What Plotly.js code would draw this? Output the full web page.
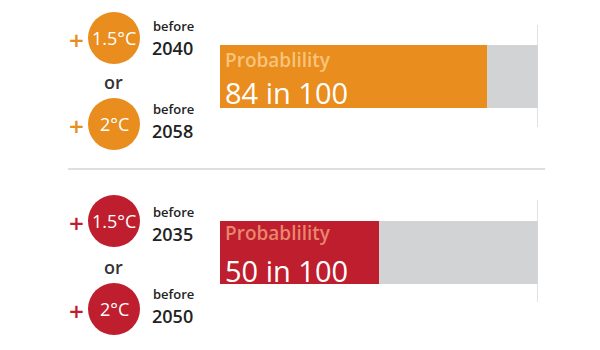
<!DOCTYPE html>
<html>
<head>
<meta charset="utf-8">
<script src="https://cdn.plot.ly/plotly-3.0.1.min.js"></script>
<style>html,body{margin:0;padding:0;background:#fff;}#chart{width:600px;height:350px;}</style>
</head>
<body>
<div id="chart"></div>
<script>
// Data
const probabilities = [84, 50];
const totals = [100, 100];
const probLabels = ["84 in 100", "50 in 100"];
const warmingA = ["1.5°C", "1.5°C"];
const warmingB = ["2°C", "2°C"];
const yearsA = ["2040", "2035"];
const yearsB = ["2058", "2050"];
const mainColors = ["#E88D1E", "#BE1E2D"];
const labelColors = ["#F9C47A", "#E8866E"];
const grayColor = "#D1D3D4";

const W = 600, H = 350;
const py = v => 1 - v / H;
const px = v => v / W;

// per-panel pixel layout
const panels = [
  {lineTop: 25, lineBot: 127, c1: 38, c2: 124, or: 82, b1: 26, y1: 47, b2: 109, y2: 130, prob: 60, val: 92},
  {lineTop: 200, lineBot: 302, c1: 221, c2: 309, or: 267, b1: 212, y1: 233, b2: 294, y2: 315, prob: 233, val: 270}
];

const traces = [];
const shapes = [];
const annotations = [];
const font = "Open Sans, Noto Sans, sans-serif";

probabilities.forEach((p, i) => {
  const ya = i === 0 ? 'y' : 'y2';
  traces.push({type: 'bar', orientation: 'h', x: [p], y: [0], width: 1, xaxis: 'x', yaxis: ya,
    marker: {color: mainColors[i], line: {width: 0}}, hoverinfo: 'none'});
  traces.push({type: 'bar', orientation: 'h', x: [totals[i] - p], y: [0], width: 1, xaxis: 'x', yaxis: ya,
    marker: {color: grayColor, line: {width: 0}}, hoverinfo: 'none'});
  const P = panels[i];
  shapes.push({type: 'line', xref: 'x', yref: 'paper', x0: totals[i], x1: totals[i], y0: py(P.lineBot), y1: py(P.lineTop),
    line: {color: '#D9D9D9', width: 1.5}});
  // circles
  [P.c1, P.c2].forEach(cy => {
    shapes.push({type: 'circle', xref: 'paper', yref: 'paper', xsizemode: 'pixel', ysizemode: 'pixel',
      xanchor: px(114), yanchor: py(cy), x0: -26, x1: 26, y0: -26, y1: 26,
      fillcolor: mainColors[i], line: {width: 0}});
  });
  const txt = (t, x, y, size, color, weight, anchor) => annotations.push({
    text: t, xref: 'paper', yref: 'paper', x: px(x), y: py(y), xanchor: anchor || 'center', yanchor: 'middle',
    showarrow: false, font: {family: font, size: size, color: color, weight: weight || 400}});
  txt(warmingA[i], 114, P.c1, 18, '#fff', 400);
  txt(warmingB[i], 114, P.c2, 18, '#fff', 400);
  txt('+', 76, P.c1 + 2, 26, mainColors[i], 600);
  txt('+', 76, P.c2 + 2, 26, mainColors[i], 600);
  txt('or', 113, P.or, 18, '#333', 600);
  txt('before', 151, P.b1, 13, '#222', 600, 'left');
  txt(yearsA[i], 150, P.y1 + 1, 18, '#222', 600, 'left');
  txt('before', 151, P.b2, 13, '#222', 600, 'left');
  txt(yearsB[i], 150, P.y2 + 1, 18, '#222', 600, 'left');
  // bar labels
  annotations.push({text: 'Probablility', xref: 'x', yref: 'paper', x: 0, xshift: 3, y: py(P.prob), xanchor: 'left', yanchor: 'middle',
    showarrow: false, font: {family: font, size: 19, color: labelColors[i], weight: 600}});
  annotations.push({text: probLabels[i], xref: 'x', yref: 'paper', x: 0, xshift: 3, y: py(P.val), xanchor: 'left', yanchor: 'middle',
    showarrow: false, font: {family: font, size: 29, color: '#fff', weight: 500}});
});

// separator
shapes.push({type: 'line', xref: 'paper', yref: 'paper', x0: px(68), x1: px(545), y0: py(169), y1: py(169),
  line: {color: '#D4D4D4', width: 1.5}});

const layout = {
  width: W, height: H,
  margin: {l: 0, r: 0, t: 0, b: 0},
  paper_bgcolor: '#fff', plot_bgcolor: '#fff',
  barmode: 'stack', showlegend: false,
  xaxis: {domain: [px(220), px(538)], range: [0, 100], visible: false, fixedrange: true},
  yaxis: {domain: [py(108), py(45)], range: [-0.5, 0.5], visible: false, fixedrange: true},
  yaxis2: {domain: [py(284), py(221)], range: [-0.5, 0.5], visible: false, fixedrange: true, anchor: 'x'},
  shapes: shapes,
  annotations: annotations
};

Plotly.newPlot('chart', traces, layout, {displayModeBar: false, staticPlot: true});
</script>
</body>
</html>
